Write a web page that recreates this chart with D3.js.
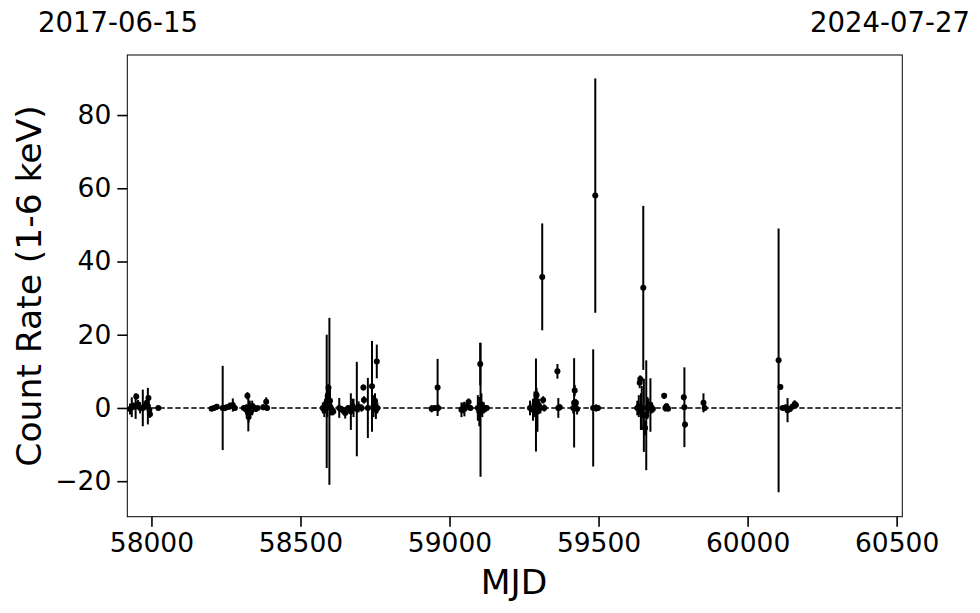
<!DOCTYPE html>
<html><head><meta charset="utf-8">
<script src="https://cdn.jsdelivr.net/npm/d3@7"></script>
<style>body{margin:0;background:#fff}svg{display:block}text{font-family:"DejaVu Sans",sans-serif;fill:#000}</style>
</head><body>
<svg id="c" width="980" height="613"></svg>
<script>
// MJD of each measurement
const mjd = [
57928,57934,57940,57947,57949,57955,57962,57971,57978,57985,57988,57990,57993,57995,58023,
58202,58210,58219,58239,58245,58252,58262,58273,58280,58310,58318,58322,58325,58326,58330,58334,58338,58342,58350,58356,58375,58385,58388,
58575,58580,58585,58588,58590,58592,58594,58597,58599,58602,58605,58610,58630,58640,58650,58660,58669,58675,58678,58689,58695,58705,58711,58713,58726,58740,58745,58750,58753,58756,58758,
58940,58950,58960,58962,59040,59046,59050,59058,59064,59070,59095,59100,59103,59104,59107,59110,59115,59120,59125,
59270,59280,59285,59290,59292,59295,59300,59305,59311,59314,59318,59362,59365,59370,59415,59418,59420,59424,59428,59482,59489,59492,59498,
59630,59635,59638,59640,59642,59645,59650,59652,59656,59660,59664,59668,59674,59678,59682,59720,59724,59728,59733,59786,59788,59790,59852,59856,
60104,60110,60118,60128,60134,60142,60150,60158,60162
];
// count rate (1-6 keV)
const rate = [
-0.3,0.2,0.5,0.5,3.1,1.0,0.0,0.0,0.5,1.5,0.5,2.7,-0.5,-1.7,0.0,
-0.2,0.0,0.3,0.0,-0.1,0.2,0.5,0.8,0.0,0.0,-0.5,3.3,-1.2,-2.5,0.5,-1.0,0.0,0.3,-0.3,0.0,0.2,1.7,0.0,
0.0,-0.5,1.0,1.8,0.5,3.5,5.5,1.8,2.0,0.0,-0.5,-1.0,0.0,-0.5,-1.4,0.0,-1.0,0.5,0.0,-0.3,0.3,0.0,5.6,2.2,0.0,5.9,0.5,2.0,-0.5,12.7,0.0,
-0.2,0.0,5.6,0.0,-0.5,0.0,-0.3,0.5,1.6,0.0,0.0,-1.0,12.0,-0.5,1.0,-0.5,0.0,-0.2,0.0,
0.0,-0.5,1.0,0.8,3.5,-1.0,0.5,0.0,35.8,2.2,0.0,10.0,0.0,0.2,0.0,1.4,4.8,1.4,-0.3,0.0,58.0,0.0,0.0,
0.0,0.5,6.9,7.9,-1.0,0.0,32.8,-2.0,-5.5,-2.0,0.0,0.5,0.8,0.0,-0.3,3.3,0.0,0.5,-0.2,2.9,0.2,-4.5,1.4,0.0,
13.0,5.7,0.0,0.2,-0.6,-0.3,0.3,1.1,0.8
];
// 1-sigma error
const err = [
1.5,2.7,1.0,3.5,0.8,1.2,1.5,5.0,1.0,1.5,5.0,0.8,1.5,1.0,0.5,
0.5,0.5,0.8,11.5,0.6,0.5,1.0,1.8,0.5,0.8,1.5,1.0,5.2,1.5,1.5,1.0,2.0,1.0,0.8,0.5,0.8,1.2,0.6,
1.5,2.0,2.5,18.2,3.0,2.0,1.0,22.8,3.0,2.0,1.5,1.0,2.7,1.0,1.5,0.8,5.0,2.0,2.5,12.9,1.5,1.0,0.8,1.0,8.2,12.4,3.0,2.0,2.5,4.6,1.5,
1.0,0.8,7.8,1.0,2.0,1.5,2.0,1.0,1.0,0.8,3.5,4.0,5.8,18.3,3.0,2.0,1.5,1.0,0.5,
2.0,3.0,3.5,12.7,2.0,5.5,2.0,1.5,14.6,1.0,1.0,2.0,2.7,0.8,1.5,12.2,1.5,1.0,1.5,16.0,32.0,1.0,0.8,
2.0,3.0,1.5,1.0,5.0,6.0,22.4,10.0,2.0,15.0,3.0,2.0,7.3,1.5,1.0,0.8,1.0,0.8,0.6,0.8,10.9,0.8,2.6,0.8,
36.0,0.8,0.5,0.6,3.3,0.8,0.6,1.0,0.8
];
const xTicks = [58000,58500,59000,59500,60000,60500];
const yTicks = [-20,0,20,40,60,80];
const dateLabels = ["2017-06-15","2024-07-27"];

const L=127.3,R=902.3,T=55,B=516.7;
const x=d3.scaleLinear().domain([57919,60519]).range([L,R]);
const y=d3.scaleLinear().domain([-29.7,96.4]).range([B,T]);
const svg=d3.select("#c");
const data=mjd.map((m,i)=>({m,r:rate[i],e:err[i]}));

svg.append("line").attr("x1",L).attr("x2",R).attr("y1",y(0)).attr("y2",y(0))
  .attr("stroke","#000").attr("stroke-width",1.5).attr("stroke-dasharray","5.5,2.5");

const g=svg.append("g");
g.selectAll("line.e").data(data).enter().append("line").attr("class","e")
  .attr("x1",d=>x(d.m)).attr("x2",d=>x(d.m))
  .attr("y1",d=>y(d.r-d.e)).attr("y2",d=>y(d.r+d.e))
  .attr("stroke","#000").attr("stroke-width",2);
g.selectAll("circle").data(data).enter().append("circle")
  .attr("cx",d=>x(d.m)).attr("cy",d=>y(d.r)).attr("r",3).attr("fill","#000");

svg.append("rect").attr("x",L).attr("y",T).attr("width",R-L).attr("height",B-T)
  .attr("fill","none").attr("stroke","#000").attr("stroke-width",1);

const xa=svg.append("g").attr("transform",`translate(0,${B})`)
  .call(d3.axisBottom(x).tickValues(xTicks).tickFormat(d3.format("d")).tickSize(10).tickPadding(6));
const ya=svg.append("g").attr("transform",`translate(${L},0)`)
  .call(d3.axisLeft(y).tickValues(yTicks).tickFormat(d=>d<0?"\u2212"+Math.abs(d):d).tickSize(10).tickPadding(6));
[xa,ya].forEach(a=>{a.select(".domain").remove();
  a.selectAll(".tick line").attr("stroke","#000").attr("stroke-width",1.6);
  a.selectAll(".tick text").style("font-size","26.5px").style("font-family","DejaVu Sans");});

svg.append("text").attr("x",514).attr("y",594).attr("text-anchor","middle").style("font-size","34.5px").text("MJD");
svg.append("text").attr("transform","translate(29,286) rotate(-90)").attr("text-anchor","middle")
  .attr("dy","0.35em").style("font-size","34.5px").text("Count Rate (1-6 keV)");
svg.append("text").attr("x",118).attr("y",32).attr("text-anchor","middle").style("font-size","27.5px").text(dateLabels[0]);
svg.append("text").attr("x",890).attr("y",32).attr("text-anchor","middle").style("font-size","27.5px").text(dateLabels[1]);
</script>
</body></html>
